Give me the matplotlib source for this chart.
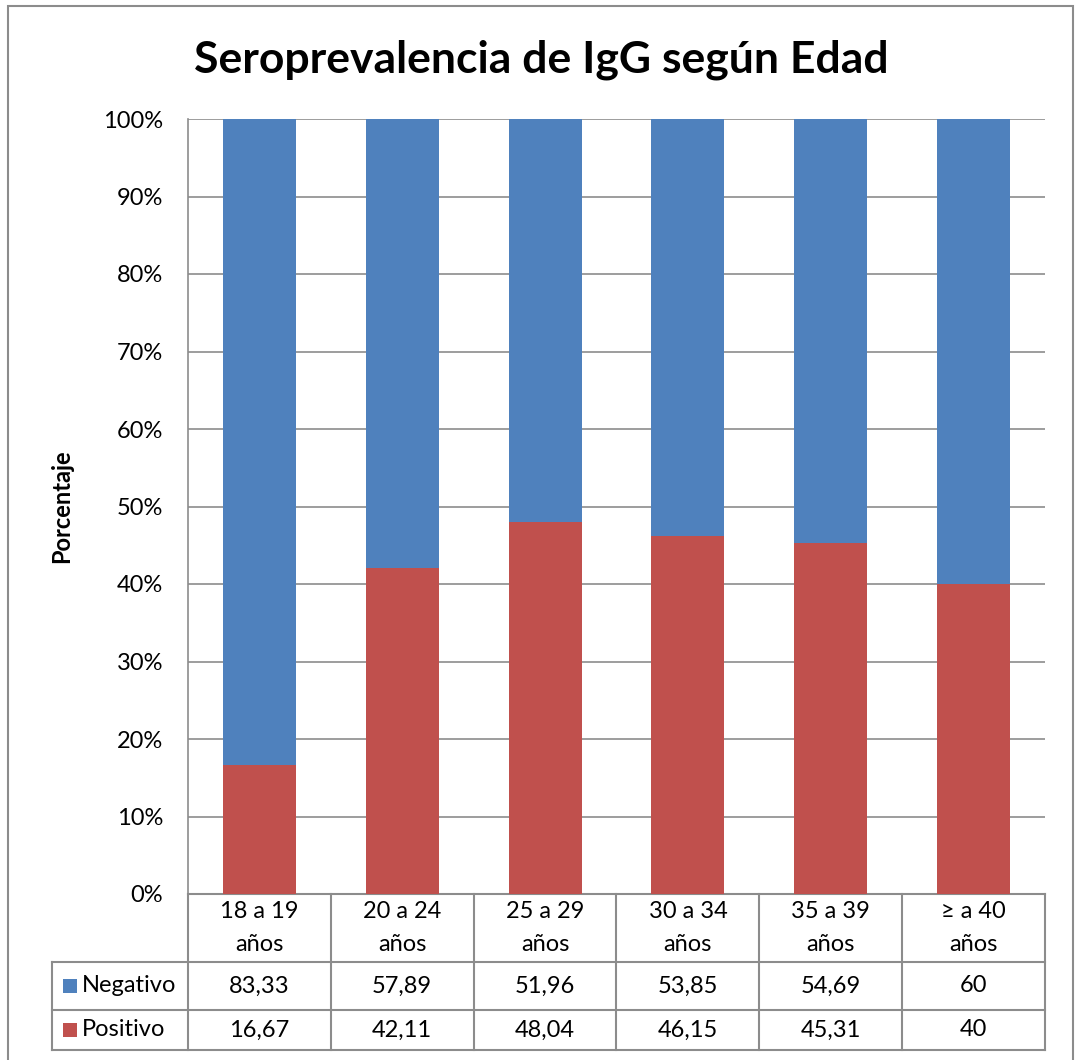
import numpy as np
import matplotlib.pyplot as plt
from matplotlib.patches import Rectangle
from matplotlib.transforms import blended_transform_factory

plt.rcParams['font.family'] = ['Lato', 'DejaVu Sans']

categories = ['18 a 19\naños', '20 a 24\naños', '25 a 29\naños',
              '30 a 34\naños', '35 a 39\naños', '≥ a 40\naños']
negativo = [83.33, 57.89, 51.96, 53.85, 54.69, 60]
positivo = [16.67, 42.11, 48.04, 46.15, 45.31, 40]
neg_labels = ['83,33', '57,89', '51,96', '53,85', '54,69', '60']
pos_labels = ['16,67', '42,11', '48,04', '46,15', '45,31', '40']
series_names = ['Negativo', 'Positivo']

c_neg = '#4F81BD'
c_pos = '#C0504D'
c_line = '#8C8C8C'
fs = 17

W, H = 1077, 1060
fig = plt.figure(figsize=(W / 100, H / 100), dpi=100)

# outer chart frame
fig.patches.append(Rectangle((8 / W, -0.01), (1073 - 8) / W, (H - 6) / H + 0.01,
                             transform=fig.transFigure, fill=False,
                             edgecolor=c_line, lw=1.5))

ax = fig.add_axes([188 / W, (H - 894) / H, 857 / W, 775 / H])
x = np.arange(len(categories))
tot = np.array(negativo) + np.array(positivo)
pos_pct = np.array(positivo) / tot * 100
neg_pct = np.array(negativo) / tot * 100
ax.bar(x, pos_pct, width=0.51, color=c_pos, zorder=3)
ax.bar(x, neg_pct, width=0.51, bottom=pos_pct, color=c_neg, zorder=3)

ax.set_xlim(-0.5, len(categories) - 0.5)
ax.set_ylim(0, 100)
ax.set_yticks(np.arange(0, 101, 10))
ax.set_yticklabels([f'{v}%' for v in range(0, 101, 10)], fontsize=fs)
ax.tick_params(axis='y', length=0, pad=18)
ax.set_xticks([])
ax.grid(axis='y', color=c_line, lw=1.2, zorder=0)
for s in ['top', 'right', 'bottom']:
    ax.spines[s].set_visible(False)
ax.spines['left'].set_color(c_line)
ax.spines['left'].set_linewidth(1.2)
ax.set_ylabel('Porcentaje', fontsize=17, fontweight='bold')
ax.yaxis.set_label_coords(-(188 - 73) / 857, 0.5)

fig.text(541 / W, 1 - 60 / H, 'Seroprevalencia de IgG según Edad',
         fontsize=32, fontweight='bold', ha='center', va='center')

# data table below the plot
tr = blended_transform_factory(ax.transData, ax.transAxes)
px = 1 / 775
y_top = 0
y_h = -(962 - 894) * px
y_n = -(1010 - 894) * px
y_p = -(1050 - 894) * px
x_left = -0.5 - (188 - 52) / (857 / 6)
x_right = len(categories) - 0.5

def hline(y, x0, x1):
    ax.plot([x0, x1], [y, y], color=c_line, lw=1.5, transform=tr, clip_on=False)

def vline(xv, y0, y1):
    ax.plot([xv, xv], [y0, y1], color=c_line, lw=1.5, transform=tr, clip_on=False)

hline(y_top, -0.5, x_right)
hline(y_h, x_left, x_right)
hline(y_n, x_left, x_right)
hline(y_p, x_left, x_right)
for b in np.arange(-0.5, len(categories), 1.0):
    vline(b, y_top, y_p)
vline(x_left, y_h, y_p)

for i, cat in enumerate(categories):
    ax.text(i, (y_top + y_h) / 2, cat, ha='center', va='center', fontsize=fs,
            linespacing=1.65, transform=tr)
    ax.text(i, (y_h + y_n) / 2, neg_labels[i], ha='center', va='center',
            fontsize=fs, transform=tr)
    ax.text(i, (y_n + y_p) / 2, pos_labels[i], ha='center', va='center',
            fontsize=fs, transform=tr)

key_x = x_left + (63 - 52) / (857 / 6)
key_w = 14 / (857 / 6)
key_h = 14 * px
for yc, name, col in [((y_h + y_n) / 2, series_names[0], c_neg),
                      ((y_n + y_p) / 2, series_names[1], c_pos)]:
    ax.add_patch(Rectangle((key_x, yc - key_h / 2), key_w, key_h, facecolor=col,
                           edgecolor='none', transform=tr, clip_on=False))
    ax.text(key_x + key_w + 5 / (857 / 6), yc, name, ha='left', va='center',
            fontsize=fs, transform=tr)

fig.savefig('out.png', dpi=100)
